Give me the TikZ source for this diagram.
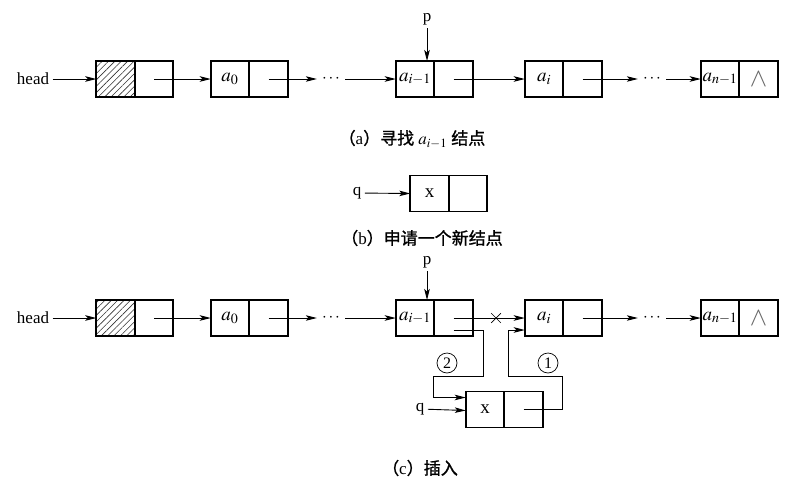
\documentclass[tikz,border=0pt]{standalone}
\usepackage{mathptmx}
\usepackage{fontspec}
\setmainfont{Liberation Serif}
\newfontfamily\cjk{Noto Sans CJK SC}[FakeBold=1.2]
\usetikzlibrary{arrows.meta,positioning,patterns.meta,shapes.misc}

\begin{document}
\begin{tikzpicture}[x=1pt,y=-1pt,
  font=\fontsize{17}{19}\selectfont,
  cell/.style={draw,line width=1.7pt,minimum width=38.5pt,minimum height=36pt,inner sep=0pt,outer sep=0pt,font=\fontsize{19}{21}\selectfont},
  hatched/.style={cell,pattern={Lines[angle=45,distance=4.5pt,line width=0.6pt]},pattern color=black!80},
  nil/.style={cell,text=black!60,font=\fontsize{26}{26}\selectfont},
  ptr/.style={-{Stealth[length=11pt,width=5.5pt,inset=2.5pt]},line width=0.9pt},
  dotsnode/.style={inner sep=5pt},
  num/.style={draw,circle,line width=0.7pt,minimum size=20pt,inner sep=0pt,font=\fontsize{16}{16}\selectfont},
  cut/.style={draw,cross out,line width=0.7pt,minimum size=9pt,inner sep=0pt},
  caption/.style={font=\fontsize{17}{19}\selectfont}]
\useasboundingbox (0,0) rectangle (809,488);

% (a) search for the node a_{i-1}
\node (headA) at (33,79) {head};
\node[hatched] (hA) at (115.5,79) {};
\node[cell, right=0pt of hA] (hlinkA) {};
\node[cell] (a0A) at (230,79) {$a_0$};
\node[cell, right=0pt of a0A] (a0linkA) {};
\node[dotsnode] (dotsA1) at (331,79) {$\cdots$};
\node[cell] (ai1A) at (415,79) {$a_{i-1}$};
\node[cell, right=0pt of ai1A] (ai1linkA) {};
\node[cell] (aiA) at (544,79) {$a_i$};
\node[cell, right=0pt of aiA] (ailinkA) {};
\node[dotsnode] (dotsA2) at (652,79) {$\cdots$};
\node[cell] (anA) at (720,79) {$a_{n-1}$};
\node[nil, right=0pt of anA] (anlinkA) {$\wedge$};
\node (pA) at (427,19) {p};
\draw[ptr] (headA) -- (hA.west);
\draw[ptr] (hlinkA.center) -- (a0A.west);
\draw[ptr] (a0linkA.center) -- (dotsA1);
\draw[ptr] (dotsA1) -- (ai1A.west);
\draw[ptr] (ai1linkA.center) -- (aiA.west);
\draw[ptr] (ailinkA.center) -- (dotsA2);
\draw[ptr] (dotsA2) -- (anA.west);
\draw[ptr] (pA) -- (pA |- ai1A.north);
\node[caption] (capA) at (412,139) {{\cjk （}a{\cjk ）寻找} $a_{i-1}$ {\cjk 结点}};

% (b) new node
\node (qB) at (357,193) {q};
\node[cell] (xB) at (429.5,193.5) {x};
\node[cell, right=0pt of xB] (xlinkB) {};
\draw[ptr] (qB) -- (xB.west);
\node[caption] (capB) at (422,238) {{\cjk （}b{\cjk ）申请一个新结点}};

% (c) insert
\node (headC) at (33,318) {head};
\node[hatched] (hC) at (115.5,318) {};
\node[cell, right=0pt of hC] (hlinkC) {};
\node[cell] (a0C) at (230,318) {$a_0$};
\node[cell, right=0pt of a0C] (a0linkC) {};
\node[dotsnode] (dotsC1) at (331,318) {$\cdots$};
\node[cell] (ai1C) at (415,318) {$a_{i-1}$};
\node[cell, right=0pt of ai1C] (ai1linkC) {};
\node[cell] (aiC) at (544,318) {$a_i$};
\node[cell, right=0pt of aiC] (ailinkC) {};
\node[dotsnode] (dotsC2) at (652,318) {$\cdots$};
\node[cell] (anC) at (720,318) {$a_{n-1}$};
\node[nil, right=0pt of anC] (anlinkC) {$\wedge$};
\node (pC) at (427,262) {p};
\node[cell] (xC) at (485,409.5) {x};
\node[cell, right=0pt of xC] (xlinkC) {};
\node (qC) at (420,409) {q};
\node[num] (two) at (447,363) {2};
\node[num] (one) at (548,363) {1};
\draw[ptr] (headC) -- (hC.west);
\draw[ptr] (hlinkC.center) -- (a0C.west);
\draw[ptr] (a0linkC.center) -- (dotsC1);
\draw[ptr] (dotsC1) -- (ai1C.west);
\draw[ptr] (ai1linkC.center) -- (aiC.west);
\node[cut] (cutC) at (496,318) {};
\draw[ptr] (ailinkC.center) -- (dotsC2);
\draw[ptr] (dotsC2) -- (anC.west);
\draw[ptr] (pC) -- (pC |- ai1C.north);
\draw[ptr] (qC) -- ([yshift=-1pt]xC.west);
\draw[ptr] ([yshift=-12pt]ai1linkC.center) -- ++(30,0) |- (433,376) |- ([yshift=12pt]xC.west);
\draw[ptr] (xlinkC.center) -- ++(39,0) |- (508,376) |- ([yshift=-12pt]aiC.west);
\node[caption] (capC) at (420,468) {{\cjk （}c{\cjk ）插入}};
\end{tikzpicture}
\end{document}
